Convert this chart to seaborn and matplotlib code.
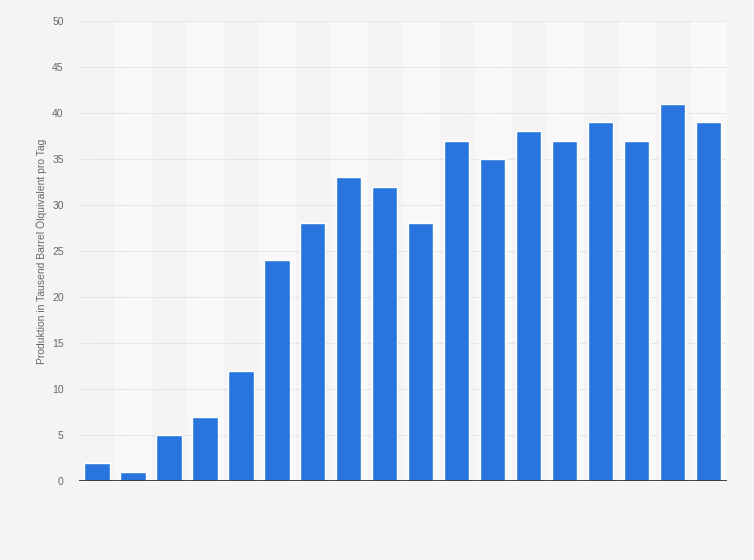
import matplotlib
matplotlib.use("Agg")
import matplotlib.pyplot as plt
import seaborn as sns
import pandas as pd

# values (no x labels are shown there)
years = [str(y) for y in range(2000, 2018)]
production = [2, 1, 5, 7, 12, 24, 28, 33, 32, 28, 37, 35, 38, 37, 39, 37, 41, 39]
y_ticks = [0, 5, 10, 15, 20, 25, 30, 35, 40, 45, 50]

df = pd.DataFrame({"year": years, "production": production})

sns.set_style("white")
plt.rcParams["font.family"] = ["Liberation Sans", "DejaVu Sans"]

fig = plt.figure(figsize=(7.54, 5.60), dpi=100, facecolor="#f4f4f4")
ax = fig.add_axes([0.1048, 0.141, 0.859, 0.8215])
ax.set_facecolor("#f4f4f4")

# alternating lighter column bands
for i in range(1, len(years), 2):
    ax.axvspan(i - 0.5, i + 0.5, color="#f9f9f9", zorder=0)

for t in y_ticks[1:]:
    ax.axhline(t, color="#d0d0d0", lw=0.8, ls=(0, (1, 1.5)), zorder=1)

sns.barplot(data=df, x="year", y="production", color="#2876dd",
            width=0.7, saturation=1, ax=ax, zorder=2)

ax.axhline(0, color="#333333", lw=1.3, zorder=3)

ax.set_xlim(-0.5, len(years) - 0.5)
ax.set_ylim(0, 50)
ax.set_yticks(y_ticks)
ax.set_yticklabels([str(t) for t in y_ticks], color="#666666", fontsize=7.5)
ax.set_xticks([])
ax.set_xlabel("")
ax.set_ylabel("Produktion in Tausend Barrel Ölquivalent pro Tag",
              color="#666666", fontsize=7.5)
ax.yaxis.set_label_coords(-0.049, 0.5)
ax.tick_params(axis="y", length=0, pad=11)
for s in ax.spines.values():
    s.set_visible(False)

fig.savefig("out.png", dpi=100, facecolor=fig.get_facecolor())
